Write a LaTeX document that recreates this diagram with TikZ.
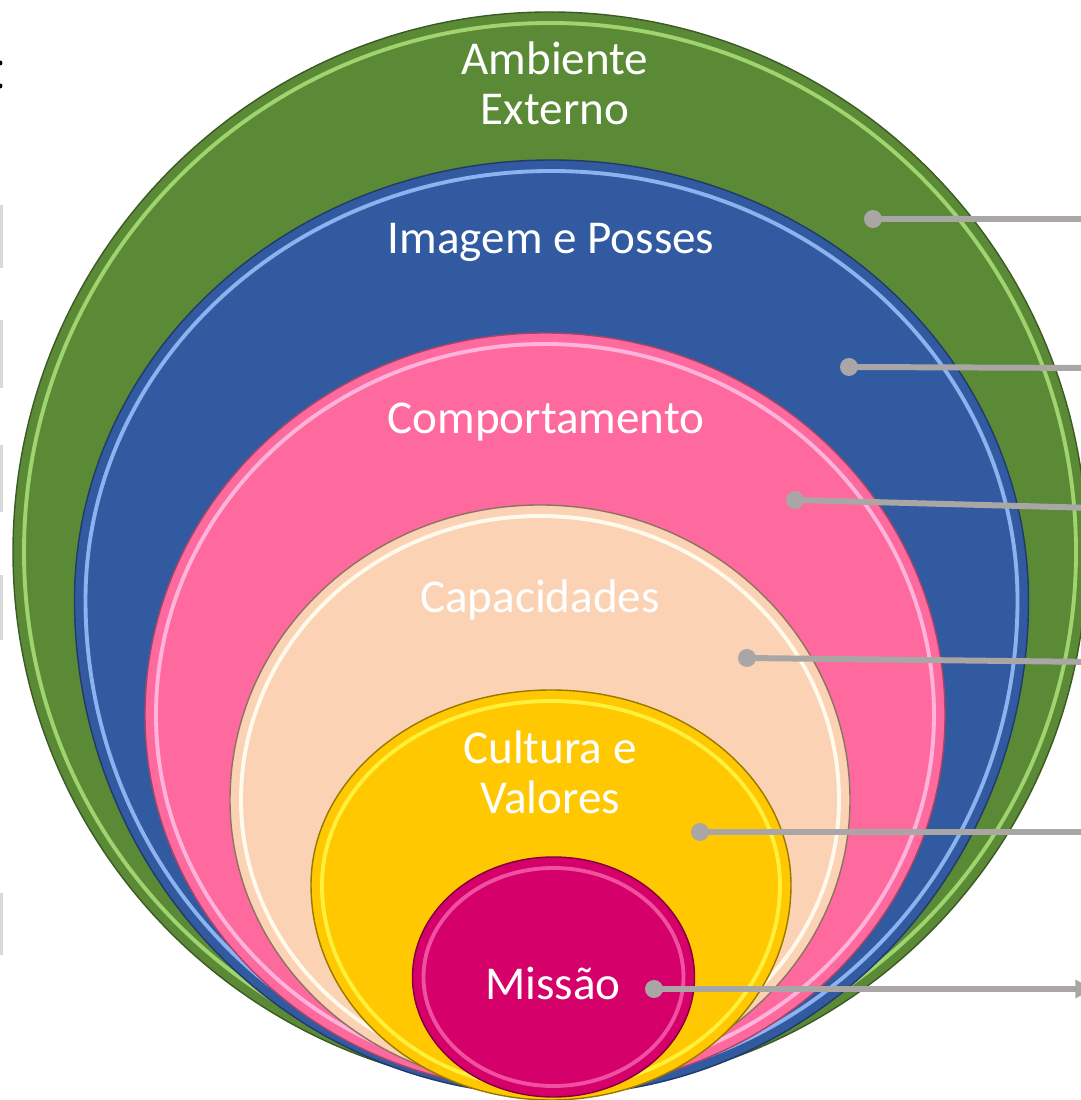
\documentclass[tikz,border=0pt]{standalone}
\usepackage{fontspec}
\setmainfont{Carlito}
\usetikzlibrary{arrows.meta}
\tikzset{>=latex}
\definecolor{grn}{RGB}{91,138,55}
\definecolor{grnlt}{RGB}{160,212,110}
\definecolor{blu}{RGB}{50,90,160}
\definecolor{blult}{RGB}{140,178,240}
\definecolor{pnk}{RGB}{255,106,158}
\definecolor{pnklt}{RGB}{255,180,220}
\definecolor{pch}{RGB}{252,210,180}
\definecolor{pchlt}{RGB}{255,250,235}
\definecolor{ylw}{RGB}{255,200,0}
\definecolor{ylwlt}{RGB}{255,240,60}
\definecolor{mag}{RGB}{213,0,106}
\definecolor{maglt}{RGB}{240,80,160}
\definecolor{lnc}{RGB}{170,166,166}
\tikzset{
  lbl/.style={text=white, align=center, font=\fontsize{13.4}{14.3}\selectfont},
  conn/.style={lnc, line width=1.7pt},
  rim/.style={line width=1.1pt}
}

\begin{document}
\begin{tikzpicture}
    \useasboundingbox (0,0) rectangle (10.81,11);
    \clip (0,0) rectangle (10.81,11);
    % cut-off bits at the left edge
    \fill[gray!30] (-.1, 8.32) rectangle (.03, 8.95);
    \fill[gray!30] (-.1, 7.12) rectangle (.03, 7.80);
    \fill[gray!30] (-.1, 5.88) rectangle (.03, 6.55);
    \fill[gray!30] (-.1, 4.60) rectangle (.03, 5.25);
    \fill[gray!30] (-.1, 1.45) rectangle (.03, 2.07);
    \fill (0, 10.37) circle (.025);
    \fill (0, 10.14) circle (.025);
    % layers, outside in
    \draw[fill=grn, draw=grn!65!black, thin](.13, 5.48) arc[start angle=180, end angle=0, x radius=5.37, y radius=5.40] arc[start angle=0, end angle=-180, x radius=5.37, y radius=5.38];
    \draw[grnlt, rim](.24, 5.48) arc[start angle=180, end angle=0, x radius=5.26, y radius=5.29] arc[start angle=0, end angle=-180, x radius=5.26, y radius=5.27];
    \draw[fill=blu, draw=blu!65!black, thin](.745, 5) arc[start angle=180, end angle=0, x radius=4.77, y radius=4.40] arc[start angle=0, end angle=-180, x radius=4.77, y radius=4.95];
    \draw[blult, rim](.855, 5) arc[start angle=180, end angle=0, x radius=4.66, y radius=4.29] arc[start angle=0, end angle=-180, x radius=4.66, y radius=4.84];
    \draw[fill=pnk, draw=pnk!65!black, thin](1.45, 3.85) arc[start angle=180, end angle=0, x radius=4.00, y radius=3.82] arc[start angle=0, end angle=-180, x radius=4.00, y radius=3.75];
    \draw[pnklt, rim](1.56, 3.85) arc[start angle=180, end angle=0, x radius=3.89, y radius=3.71] arc[start angle=0, end angle=-180, x radius=3.89, y radius=3.64];
    \draw[fill=pch, draw=pch!55!black, thin](2.30, 3) arc[start angle=180, end angle=0, x radius=3.10, y radius=2.95] arc[start angle=0, end angle=-180, x radius=3.10, y radius=2.88];
    \draw[pchlt, rim](2.41, 3) arc[start angle=180, end angle=0, x radius=2.99, y radius=2.84] arc[start angle=0, end angle=-180, x radius=2.99, y radius=2.77];
    \draw[fill=ylw, draw=ylw!60!black, thin](3.11, 2.15) arc[start angle=180, end angle=0, x radius=2.40, y radius=1.95] arc[start angle=0, end angle=-180, x radius=2.40, y radius=2.15];
    \draw[ylwlt, rim](3.22, 2.15) arc[start angle=180, end angle=0, x radius=2.29, y radius=1.84] arc[start angle=0, end angle=-180, x radius=2.29, y radius=2.04];
    \draw[fill=mag, draw=mag!60!black, thin](5.535, 1.23) ellipse[x radius=1.41, y radius=1.20];
    \draw[maglt, rim](5.535, 1.23) ellipse[x radius=1.30, y radius=1.09];
    % labels
    \node[lbl] (amb) at (5.55, 10.17) {Ambiente\\Externo};
    \node[lbl] (img) at (5.51, 8.58) {Imagem e Posses};
    \node[lbl] (comp) at (5.46, 6.78) {Comportamento};
    \node[lbl] (cap) at (5.40, 5.00) {Capacidades};
    \node[lbl] (cult) at (5.50, 3.28) {Cultura e\\Valores};
    \node[lbl] (mis) at (5.53, 1.17) {Missão};
    % pointers to the right
    \coordinate (p1) at (8.73, 8.81);  \coordinate (q1) at (10.95, 8.81);
    \coordinate (p2) at (8.49, 7.33);  \coordinate (q2) at (10.95, 7.32);
    \coordinate (p3) at (7.95, 6.00);  \coordinate (q3) at (10.95, 5.92);
    \coordinate (p4) at (7.47, 4.42);  \coordinate (q4) at (10.95, 4.38);
    \coordinate (p5) at (7.00, 2.68);  \coordinate (q5) at (10.95, 2.68);
    \coordinate (p6) at (6.54, 1.11);  \coordinate (q6) at (10.93, 1.11);
    \draw[conn](p1)--(q1);
    \draw[conn](p2)--(q2);
    \draw[conn](p3)--(q3);
    \draw[conn](p4)--(q4);
    \draw[conn](p5)--(q5);
    \draw[conn, -{Triangle[length=5pt, width=5pt]}](p6)--(q6);
    \foreach \p in {p1,p2,p3,p4,p5,p6}
        \fill[lnc](\p) circle(.09);
\end{tikzpicture}
\end{document}
